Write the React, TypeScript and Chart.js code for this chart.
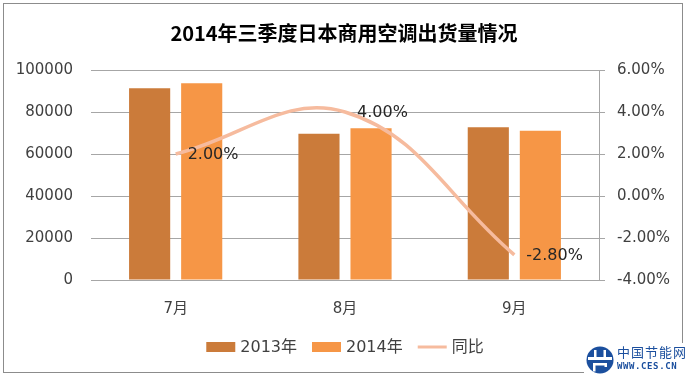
import React, { useEffect, useRef } from "react";
import { Chart, registerables } from "chart.js";

Chart.register(...registerables);

const chartTitle = "2014年三季度日本商用空调出货量情况";
const categories = ["7月", "8月", "9月"];
const series2013 = [91300, 69600, 72700];
const series2014 = [93700, 72300, 71100];
const yoyRate = [2.0, 4.0, -2.8];
const seriesNames = ["2013年", "2014年", "同比"];
const leftAxis = { min: 0, max: 100000, step: 20000 };
const rightAxis = { min: -4, max: 6, step: 2 };

const COLOR_2013 = "#CB7B3A";
const COLOR_2014 = "#F69646";
const COLOR_LINE = "#F6BB9E";
const TEXT = "#404040";
const GRID = "#A6A6A6";
const NUM_FONT = "'DejaVu Sans', 'Noto Sans CJK SC', sans-serif";

const pointLabelPlugin = {
  id: "pointLabels",
  afterDatasetsDraw(chart: any) {
    const meta = chart.getDatasetMeta(2);
    const ctx = chart.ctx;
    ctx.save();
    ctx.font = `16px ${NUM_FONT}`;
    ctx.fillStyle = "#262626";
    ctx.textAlign = "left";
    ctx.textBaseline = "middle";
    meta.data.forEach((p: any, i: number) => {
      ctx.fillText(yoyRate[i].toFixed(2) + "%", p.x + 12, p.y + 1);
    });
    ctx.restore();
  },
};

const legendPlugin = {
  id: "customLegend",
  afterDraw(chart: any) {
    const ctx = chart.ctx;
    const ds = chart.data.datasets;
    ctx.save();
    ctx.font = `16px ${NUM_FONT}`;
    ctx.textBaseline = "middle";
    ctx.textAlign = "left";
    const boxW = 29;
    const gapText = 5;
    const gapItem = 15;
    const widths = ds.map((d: any) => boxW + gapText + ctx.measureText(d.label).width);
    const total = widths.reduce((a: number, b: number) => a + b, 0) + gapItem * (ds.length - 1);
    const cx = (chart.chartArea.left + chart.chartArea.right) / 2;
    let x = cx - total / 2;
    const y = chart.chartArea.bottom + 67;
    ds.forEach((d: any, i: number) => {
      if (d.type === "line") {
        ctx.strokeStyle = d.borderColor;
        ctx.lineWidth = 3;
        ctx.beginPath();
        ctx.moveTo(x, y);
        ctx.lineTo(x + boxW, y);
        ctx.stroke();
      } else {
        ctx.fillStyle = d.backgroundColor;
        ctx.fillRect(x, y - 5, boxW, 10);
      }
      ctx.fillStyle = TEXT;
      ctx.fillText(d.label, x + boxW + gapText, y + 1);
      x += widths[i] + gapItem;
    });
    ctx.restore();
  },
};

function Logo() {
  return (
    <div
      style={{
        position: "absolute",
        left: 584,
        top: 343,
        width: 104,
        height: 34,
        background: "#fff",
      }}
    >
      <svg width="30" height="30" viewBox="0 0 30 30" style={{ position: "absolute", left: 1, top: 2 }}>
        <circle cx="15" cy="15" r="13.5" fill="#1B4F9E" />
        <rect x="3" y="12" width="24" height="3" fill="#fff" />
        <rect x="9" y="5" width="2.5" height="7" fill="#fff" />
        <rect x="18.5" y="5" width="2.5" height="7" fill="#fff" />
        <path d="M8 18 h14 v4 h-2.5 v-1.5 h-9 v6 h-2.5 z" fill="#fff" />
      </svg>
      <div
        style={{
          position: "absolute",
          left: 33,
          top: 1,
          fontFamily: "'Noto Sans CJK SC', sans-serif",
          fontSize: 13,
          lineHeight: "15px",
          color: "#1B4F9E",
          letterSpacing: 1,
          whiteSpace: "nowrap",
        }}
      >
        中国节能网
      </div>
      <div
        style={{
          position: "absolute",
          left: 33,
          top: 18,
          fontFamily: "'DejaVu Sans Mono', monospace",
          fontSize: 9,
          fontWeight: "bold",
          lineHeight: "11px",
          color: "#1B4F9E",
          letterSpacing: 0.6,
          whiteSpace: "nowrap",
        }}
      >
        WWW.CES.CN
      </div>
    </div>
  );
}

export default function App() {
  const canvasRef = useRef<HTMLCanvasElement | null>(null);

  useEffect(() => {
    if (!canvasRef.current) return;
    const chart = new Chart(canvasRef.current, {
      type: "bar",
      data: {
        labels: categories,
        datasets: [
          {
            type: "bar",
            label: seriesNames[0],
            data: series2013,
            backgroundColor: COLOR_2013,
            borderWidth: 0,
            yAxisID: "y",
            order: 1,
          },
          {
            type: "bar",
            label: seriesNames[1],
            data: series2014,
            backgroundColor: COLOR_2014,
            borderWidth: 0,
            yAxisID: "y",
            order: 1,
          },
          {
            type: "line",
            label: seriesNames[2],
            data: yoyRate,
            borderColor: COLOR_LINE,
            backgroundColor: COLOR_LINE,
            borderWidth: 3.5,
            pointRadius: 0,
            tension: 0.4,
            fill: false,
            yAxisID: "y1",
            order: 0,
          },
        ] as any,
      },
      options: {
        responsive: false,
        animation: false,
        devicePixelRatio: 1,
        layout: { padding: { top: 0, left: 0, right: 0, bottom: 57 } },
        datasets: {
          bar: { categoryPercentage: 0.615, barPercentage: 0.79 },
        },
        plugins: {
          legend: { display: false },
          tooltip: { enabled: false },
          title: {
            display: true,
            text: chartTitle,
            color: "#000",
            font: { family: "'Noto Sans CJK SC', sans-serif", size: 20, weight: "bold" },
            padding: { top: 21, bottom: 25 },
          },
        },
        scales: {
          x: {
            grid: { display: false },
            border: { display: false },
            ticks: { color: TEXT, font: { family: NUM_FONT, size: 15 }, padding: 12 },
            afterFit: (s: any) => {
              s.height = 40;
            },
          },
          y: {
            position: "left",
            min: leftAxis.min,
            max: leftAxis.max,
            ticks: {
              stepSize: leftAxis.step,
              color: TEXT,
              font: { family: NUM_FONT, size: 15 },
              padding: 18,
              callback: (v: any) => String(v),
            },
            grid: { color: GRID, drawTicks: false, lineWidth: 1 },
            border: { display: false },
            afterFit: (s: any) => {
              s.width = 91;
            },
          },
          y1: {
            position: "right",
            min: rightAxis.min,
            max: rightAxis.max,
            ticks: {
              stepSize: rightAxis.step,
              color: TEXT,
              font: { family: NUM_FONT, size: 15 },
              padding: 12,
              callback: (v: any) => Number(v).toFixed(2) + "%",
            },
            grid: { drawOnChartArea: false, drawTicks: true, tickLength: 6, color: GRID },
            border: { display: true, color: GRID },
            afterFit: (s: any) => {
              s.width = 89;
            },
          },
        },
      } as any,
      plugins: [pointLabelPlugin, legendPlugin],
    });
    return () => chart.destroy();
  }, []);

  return (
    <div
      style={{
        position: "absolute",
        left: 0,
        top: 0,
        width: 688,
        height: 377,
        background: "#fff",
        overflow: "hidden",
      }}
    >
      <canvas ref={canvasRef} width={688} height={377} style={{ display: "block" }} />
      <div
        style={{
          position: "absolute",
          left: 3,
          top: 3,
          width: 678,
          height: 368,
          border: "1px solid #8C8C8C",
          pointerEvents: "none",
        }}
      />
      <Logo />
    </div>
  );
}
